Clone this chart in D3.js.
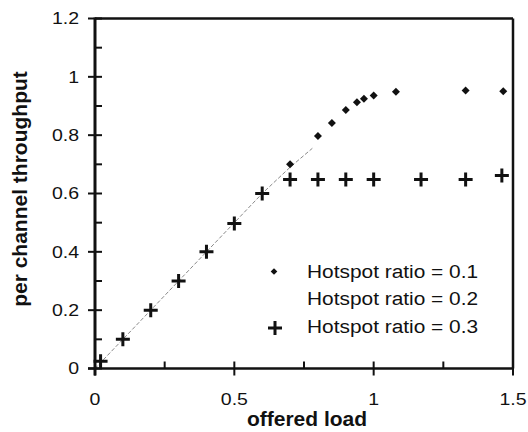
<!DOCTYPE html>
<html>
<head>
<meta charset="utf-8">
<script src="https://cdn.jsdelivr.net/npm/d3@7"></script>
<style>
  html, body { margin: 0; padding: 0; background: #fff; }
  svg { display: block; }
  text { font-family: "Liberation Sans", Arial, Helvetica, sans-serif; fill: #111; }
</style>
</head>
<body>
<svg id="chart" width="528" height="432"></svg>
<script>
// ---- data ----
const xTicks = [0, 0.5, 1, 1.5];
const xTickLabels = ["0", "0.5", "1", "1.5"];
const yTicks = [0, 0.2, 0.4, 0.6, 0.8, 1, 1.2];
const yTickLabels = ["0", "0.2", "0.4", "0.6", "0.8", "1", "1.2"];
const xMinor = [0.25, 0.75, 1.25];
const yMinor = [0.1, 0.3, 0.5, 0.7, 0.9, 1.1];

const seriesNames = ["Hotspot ratio = 0.1", "Hotspot ratio = 0.2", "Hotspot ratio = 0.3"];

const load01 = [0.7, 0.8, 0.85, 0.9, 0.94, 0.965, 1.0, 1.08, 1.33, 1.465];
const thr01  = [0.70, 0.797, 0.842, 0.886, 0.913, 0.925, 0.936, 0.949, 0.953, 0.951];

const load02 = [0, 0.1, 0.2, 0.3, 0.4, 0.5, 0.6, 0.7, 0.78];
const thr02  = [0, 0.1, 0.2, 0.3, 0.4, 0.5, 0.6, 0.69, 0.755];

const load03 = [0.02, 0.1, 0.2, 0.3, 0.4, 0.5, 0.6, 0.7, 0.8, 0.9, 1.0, 1.17, 1.33, 1.46];
const thr03  = [0.025, 0.1, 0.2, 0.3, 0.4, 0.497, 0.6, 0.648, 0.648, 0.648, 0.648, 0.648, 0.648, 0.662];

// ---- layout ----
const svg = d3.select("#chart");
const L = 95, R = 513, T = 18.5, B = 368.5;
const x = d3.scaleLinear().domain([0, 1.5]).range([L, R]);
const y = d3.scaleLinear().domain([0, 1.2]).range([B, T]);
const ink = "#111";

// series 0.2 : thin grey dashed line
svg.append("path")
  .datum(load02.map((d, i) => [d, thr02[i]]))
  .attr("fill", "none")
  .attr("stroke", "#8a8a8a")
  .attr("stroke-width", 1)
  .attr("stroke-dasharray", "4,2")
  .attr("d", d3.line().x(d => x(d[0])).y(d => y(d[1])));

// series 0.1 : diamonds
const diamond = d3.symbol().type(d3.symbolSquare).size(32);
svg.append("g").selectAll("path")
  .data(load01.map((d, i) => [d, thr01[i]]))
  .join("path")
  .attr("d", diamond)
  .attr("transform", d => `translate(${x(d[0])},${y(d[1])}) rotate(45)`)
  .attr("fill", ink);

// series 0.3 : plus
const plusPath = "M-7,0H7M0,-7V7";
svg.append("g").selectAll("path")
  .data(load03.map((d, i) => [d, thr03[i]]))
  .join("path")
  .attr("d", plusPath)
  .attr("transform", d => `translate(${x(d[0])},${y(d[1])})`)
  .attr("stroke", ink)
  .attr("stroke-width", 3)
  .attr("fill", "none");

// frame
svg.append("line").attr("x1", L).attr("x2", R).attr("y1", T).attr("y2", T)
  .attr("stroke", ink).attr("stroke-width", 2.5);
svg.append("line").attr("x1", R).attr("x2", R).attr("y1", T).attr("y2", B)
  .attr("stroke", ink).attr("stroke-width", 2.5);
svg.append("line").attr("x1", L).attr("x2", L).attr("y1", T - 1).attr("y2", B + 7)
  .attr("stroke", ink).attr("stroke-width", 3);
svg.append("line").attr("x1", L - 7).attr("x2", R + 1).attr("y1", B).attr("y2", B)
  .attr("stroke", ink).attr("stroke-width", 2.5);

// ticks
const tg = svg.append("g").attr("stroke", ink).attr("stroke-width", 2);
tg.selectAll(".ym").data(yTicks).join("line")
  .attr("x1", L - 7).attr("x2", L + 7).attr("y1", d => y(d)).attr("y2", d => y(d));
tg.selectAll(".yn").data(yMinor).join("line")
  .attr("x1", L).attr("x2", L + 7).attr("y1", d => y(d)).attr("y2", d => y(d));
tg.selectAll(".xm").data(xTicks).join("line")
  .attr("y1", B - 7).attr("y2", B + 7).attr("x1", d => x(d)).attr("x2", d => x(d));
tg.selectAll(".xn").data(xMinor).join("line")
  .attr("y1", B - 7).attr("y2", B).attr("x1", d => x(d)).attr("x2", d => x(d));

// tick labels
const SX = 1.22;
svg.append("g").selectAll("text").data(yTicks).join("text")
  .attr("transform", d => `translate(79,${y(d) + 5.8}) scale(${SX},1)`)
  .attr("text-anchor", "end")
  .attr("font-size", 16)
  .text((d, i) => yTickLabels[i]);
svg.append("g").selectAll("text").data(xTicks).join("text")
  .attr("transform", d => `translate(${x(d)},405) scale(${SX},1)`)
  .attr("text-anchor", "middle")
  .attr("font-size", 16)
  .text((d, i) => xTickLabels[i]);

// axis titles
svg.append("text")
  .attr("transform", `translate(307,426)`)
  .attr("text-anchor", "middle")
  .attr("font-size", 21).attr("font-weight", "bold")
  .text("offered load");
svg.append("text")
  .attr("transform", `translate(27,189) rotate(-90)`)
  .attr("text-anchor", "middle")
  .attr("font-size", 21).attr("font-weight", "bold")
  .text("per channel throughput");

// legend
const legRows = [271.5, 298.5, 326];
const lg = svg.append("g");
seriesNames.forEach((name, i) => {
  lg.append("text")
    .attr("transform", `translate(307,${legRows[i] + 6.5}) scale(1.16,1)`)
    .attr("font-size", 18)
    .text(name);
});
lg.append("path").attr("d", d3.symbol().type(d3.symbolSquare).size(22))
  .attr("transform", `translate(274,${legRows[0]}) rotate(45)`).attr("fill", ink);
lg.append("path").attr("d", plusPath)
  .attr("transform", `translate(275,${legRows[2] + 2})`)
  .attr("stroke", ink).attr("stroke-width", 3).attr("fill", "none");
</script>
</body>
</html>
